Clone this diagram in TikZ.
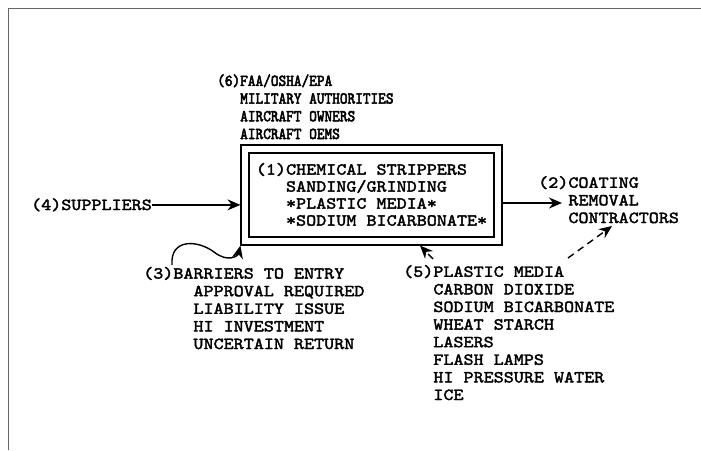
\documentclass[tikz,border=0pt]{standalone}
\usepackage{fontspec}
\newfontfamily\typefont{lmmono10-regular.otf}[FakeStretch=1.14, FakeBold=2.2]
\newfontfamily\agencyfont{lmmono10-regular.otf}[FakeStretch=0.88, FakeBold=3]
\usetikzlibrary{positioning, arrows.meta, fit, calc}

\begin{document}
\begin{tikzpicture}[
    x=1pt, y=-1pt,
    lbl/.style={
      font=\typefont\fontsize{16.8}{17.6}\selectfont,
      align=left, inner sep=0pt, anchor=base west
    },
    agency/.style={lbl, font=\agencyfont\fontsize{16.6}{17.7}\selectfont},
    procbox/.style={
      draw, line width=1.3pt, minimum width=245pt, minimum height=84pt,
      align=left, inner sep=0pt,
      font=\typefont\fontsize{16.8}{17}\selectfont
    },
    outerbox/.style={draw, line width=1.8pt, inner sep=7pt},
    flow/.style={-{Stealth[length=13pt, width=11pt]}, line width=1.4pt},
    dashflow/.style={flow, dash pattern=on 7pt off 5pt},
]
    \useasboundingbox (0,0) rectangle (701,450);
    % Page frame
    \draw[black!60, line width=0.8pt] (701,8) -- (8,8) -- (8,450);

    % Process box
    \node[procbox] (proc) at (371.5,195) {(1)CHEMICAL STRIPPERS\\\phantom{(1)}SANDING/GRINDING\\\phantom{(1)}*PLASTIC MEDIA*\\\phantom{(1)}*SODIUM BICARBONATE*};
    \node[outerbox, fit=(proc)] (outer) {};

    % Forces (base anchor sits on the last line)
    \node[agency] (regs) at (217,139) {(6)FAA/OSHA/EPA\\\phantom{(6)}MILITARY AUTHORITIES\\\phantom{(6)}AIRCRAFT OWNERS\\\phantom{(6)}AIRCRAFT OEMS};
    \node[lbl, anchor=base east] (supp) at (152,210) {(4)SUPPLIERS};
    \node[lbl] (contr) at (538,223) {(2)COATING\\\phantom{(2)}REMOVAL\\\phantom{(2)}CONTRACTORS};
    \node[lbl] (barr) at (143,349) {(3)BARRIERS TO ENTRY\\\phantom{(3)BA}APPROVAL REQUIRED\\\phantom{(3)BA}LIABILITY ISSUE\\\phantom{(3)BA}HI INVESTMENT\\\phantom{(3)BA}UNCERTAIN RETURN};
    \node[lbl] (subst) at (403,400) {(5)PLASTIC MEDIA\\\phantom{(5)}CARBON DIOXIDE\\\phantom{(5)}SODIUM BICARBONATE\\\phantom{(5)}WHEAT STARCH\\\phantom{(5)}LASERS\\\phantom{(5)}FLASH LAMPS\\\phantom{(5)}HI PRESSURE WATER\\\phantom{(5)}ICE};

    % Connector ends
    \coordinate (rmv) at (562,203);
    \coordinate (barrtail) at (172,265);
    \coordinate (substail) at (433,259);
    \coordinate (subshead) at (420,243);
    \coordinate (mediatail) at (568,258);
    \coordinate (contrhead) at (612,226);

    % Arrows
    \draw[flow] (supp.east) -- (supp.east -| outer.west);
    \draw[flow] (outer.east |- rmv) -- (rmv);
    \draw[flow] (barrtail) .. controls (170,238) and (198,240) .. (214,252)
        .. controls (228,263) and (238,256) .. (outer.south west);
    \draw[dashflow] (substail) -- (subshead |- outer.south);
    \draw[dashflow] (mediatail) -- (contrhead);
\end{tikzpicture}
\end{document}
